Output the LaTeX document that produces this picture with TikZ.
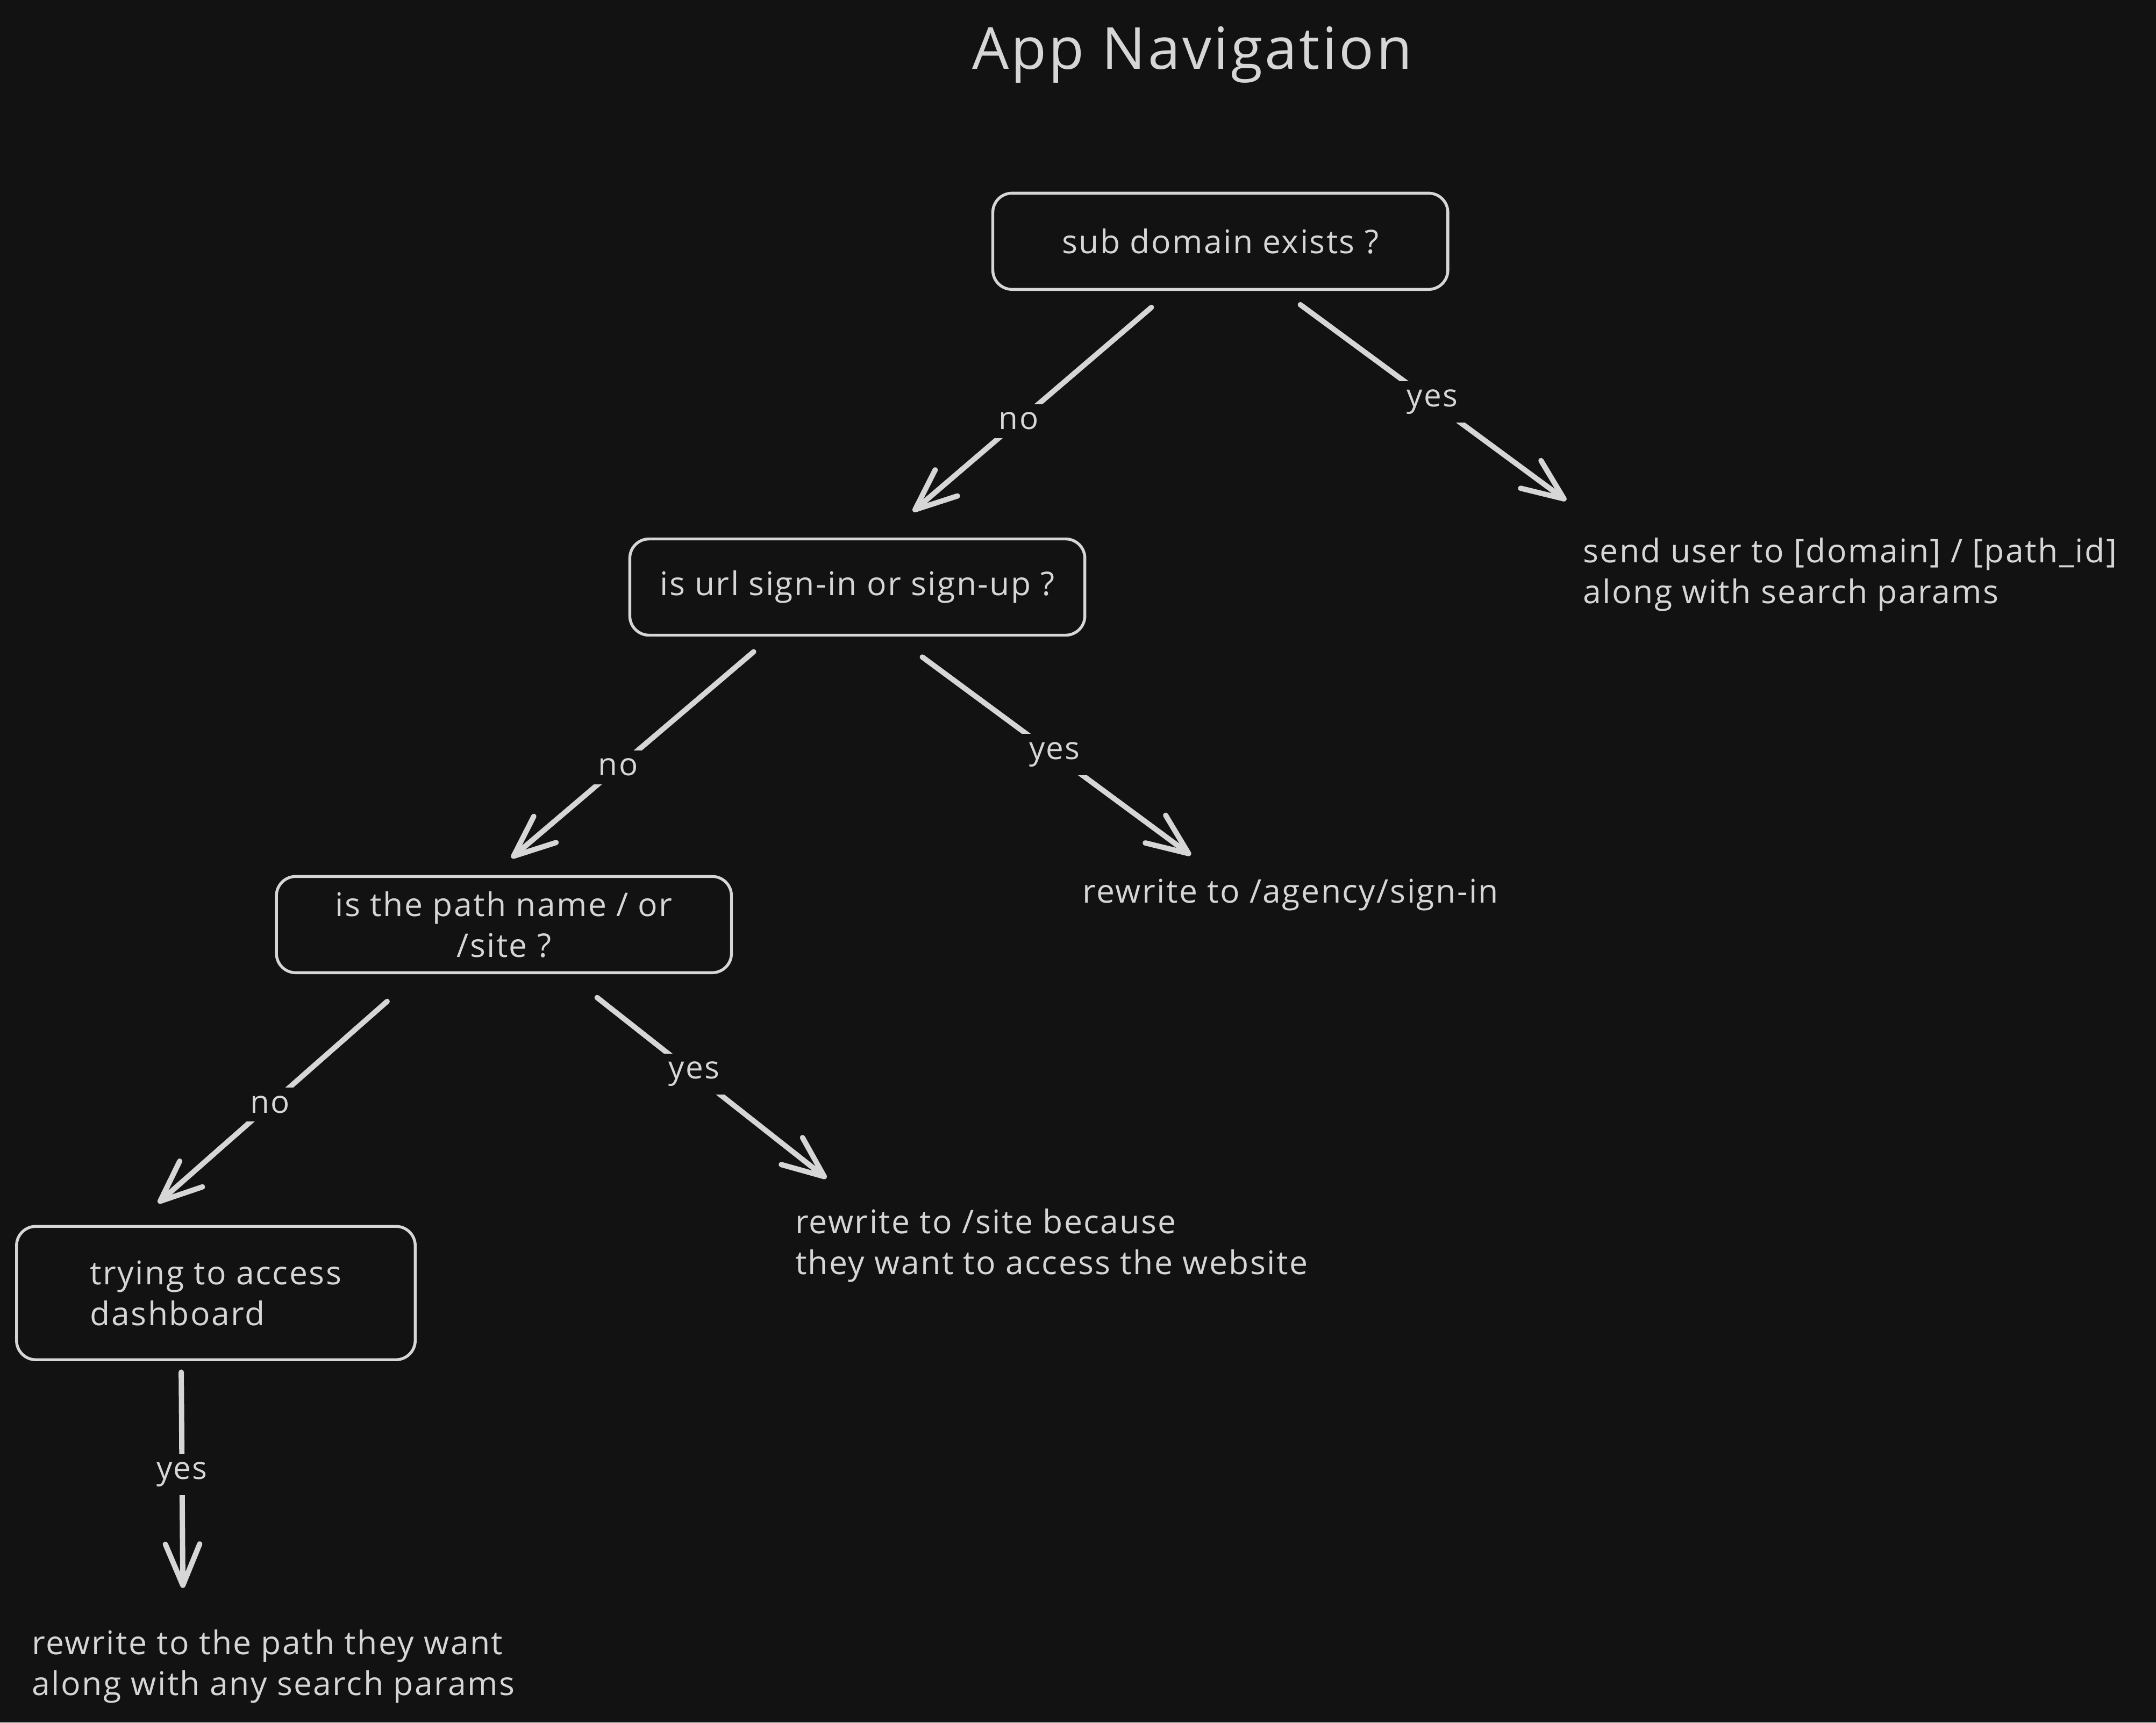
\documentclass[tikz,border=0pt]{standalone}
\usepackage{fontspec}
\setmainfont{Open Sans}[LetterSpace=4]
\usetikzlibrary{arrows.meta}
\definecolor{canvas}{HTML}{121212}
\definecolor{chalk}{HTML}{D6D6D6}
\tikzset {
  % question boxes
  decision/.style = {draw=chalk, line width=1.2pt, rounded corners=0.28cm, text=chalk,
    minimum width=6.62cm, minimum height=1.4cm, align=center, font=\fontsize{13.5}{17}\selectfont},
  % plain outcome text
  outcome/.style = {text=chalk, inner sep=0pt, anchor=west, align=left, font=\fontsize{13.5}{17}\selectfont},
  % arrows between steps
  flow/.style = {draw=chalk, line width=2.2pt, line cap=round,
    -{Straight Barb[length=6mm, width=5mm, round]}},
  % yes / no on the arrows
  answer/.style = {fill=canvas, text=chalk, inner sep=0.12cm, font=\fontsize{13}{15}\selectfont},
}
\begin{document}
\begin{tikzpicture}[x=0.02cm, y=-0.02cm]
        \useasboundingbox (0,0) rectangle (1568,1253);
        \fill[canvas] (0,0) rectangle (1568,1253);

        \node[text=chalk, font=\fontsize{24}{28}\selectfont] (title) at (867,40) {App Navigation};

        \node[decision] (sub) at (887.5,175.5) {sub domain exists ?};
        \node[decision] (auth) at (623.5,427) {is url sign-in or sign-up ?};
        \node[decision] (path) at (366.5,672.5) {is the path name / or\\/site ?};
        \node[decision, minimum width=5.8cm, minimum height=1.94cm, align=left] (dash) at (157,940.5) {trying to access\\dashboard};

        \node[outcome] (send) at (1151,418) {send user to [domain] / [path\_id]\\along with search params};
        \node[outcome] (agency) at (787,651) {rewrite to /agency/sign-in};
        \node[outcome] (site) at (578,906) {rewrite to /site because\\they want to access the website};
        \node[outcome] (want) at (23,1212) {rewrite to the path they want\\along with any search params};

        \coordinate (t-auth) at (664,372);
        \coordinate (t-send) at (1139,364);
        \coordinate (t-path) at (372,624);
        \coordinate (t-agency) at (866,622);
        \coordinate (t-dash) at (115,875);
        \coordinate (t-site) at (601,857);
        \coordinate (t-want) at (133,1155);

        \draw[flow, shorten <=0.37cm] (sub.225) -- (t-auth) node[answer, pos=0.59] {no};
        \draw[flow, shorten <=0.34cm] (sub.321) -- (t-send) node[answer, pos=0.53] {yes};

        \draw[flow, shorten <=0.34cm] (auth.210) -- (t-path) node[answer, pos=0.59] {no};
        \draw[flow, shorten <=0.5cm] (auth.307) -- (t-agency) node[answer, pos=0.54] {yes};

        \draw[flow, shorten <=0.6cm] (path.210) -- (t-dash) node[answer, pos=0.57] {no};
        \draw[flow, shorten <=0.55cm] (path.322) -- (t-site) node[answer, pos=0.49] {yes};

        \draw[flow, shorten <=0.16cm] (dash.243.7) -- (t-want) node[answer, pos=0.5] {yes};
      \end{tikzpicture}
\end{document}
